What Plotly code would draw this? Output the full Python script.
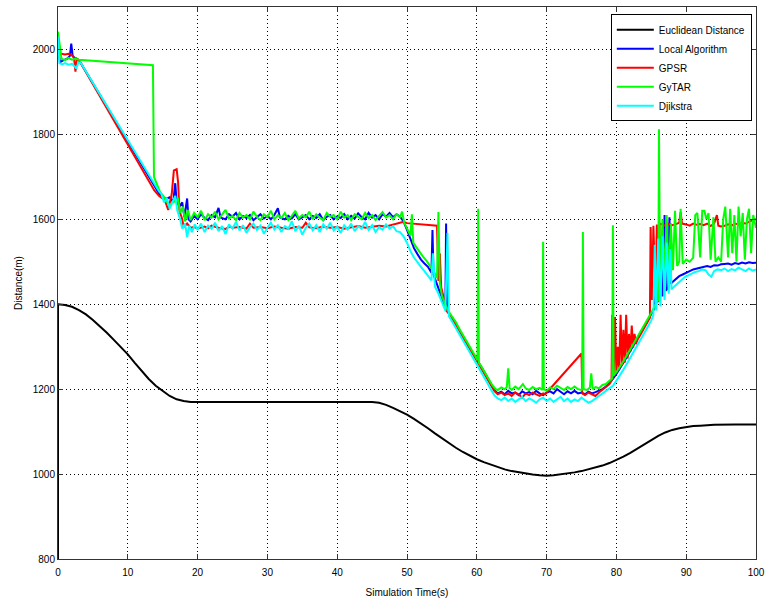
import plotly.graph_objects as go

# ---------------- data ----------------
euclid_t = [0, 0, 1, 2, 3, 4, 5, 6, 7, 8, 9, 10, 11, 12, 13, 14, 15, 16, 17, 18, 19, 20, 30, 40, 45,
            46, 47, 48, 49, 50, 51, 52, 53, 54, 55, 56, 57, 58, 59, 60, 61, 62, 63, 64, 65, 66, 67, 68,
            69, 70, 71, 72, 73, 74, 75, 76, 77, 78, 79, 80, 81, 82, 83, 84, 85, 86, 87, 88, 89, 90, 91,
            92, 94, 97, 100]
euclid_v = [0, 1400, 1398, 1394, 1386, 1376, 1363, 1349, 1333, 1316, 1299, 1282, 1262, 1242, 1224,
            1208, 1195, 1184, 1176, 1172, 1170, 1170, 1170, 1170, 1170,
            1168, 1163, 1156, 1148, 1140, 1130, 1120, 1108, 1096, 1084, 1072, 1062, 1052, 1043, 1035,
            1028, 1022, 1016, 1011, 1007, 1004, 1001, 999, 997, 996, 997, 999, 1001, 1004, 1007, 1011,
            1015, 1020, 1026, 1033, 1041, 1050, 1060, 1070, 1081, 1090, 1098, 1104, 1108, 1111, 1113,
            1114, 1116, 1117, 1117]

local_t = [0, 0.3, 0.8, 1.3, 1.7, 1.9, 2.1, 2.5, 3.0,
           14.5, 15.0, 15.5, 16.0, 16.5, 16.8, 17.0, 17.4, 17.8, 18.1, 18.5, 18.7, 19.0,
           19.5, 20, 20.5, 21, 21.5, 22, 22.5, 23, 23.3, 24, 24.5, 25, 25.5, 26, 26.5, 27, 27.5, 28,
           28.5, 29, 29.5, 30, 30.5, 31, 31.5, 31.8, 32.5, 33, 33.5, 34, 34.5, 35, 35.5, 36, 36.5, 37,
           37.5, 38, 38.5, 39, 39.5, 40, 40.5, 41, 41.5, 42, 42.5, 43, 43.5, 44, 44.5, 45, 45.5, 46,
           46.5, 47, 47.5, 48, 48.5, 49, 49.5,
           50, 50.5, 51, 51.5, 52, 52.5, 53, 53.5, 53.65, 53.8, 54, 54.5, 55, 55.5, 55.6, 55.75, 56,
           56.5, 57, 57.5, 58, 58.5, 59, 59.5, 60, 60.5, 61, 61.5, 62, 62.5, 63,
           63.5, 64, 64.5, 65, 65.5, 66, 66.5, 67, 67.5, 68, 68.5, 69, 69.5, 70, 70.5, 71, 71.5, 72,
           72.5, 73, 73.5, 74, 74.5, 75, 75.5, 76, 76.5, 77, 77.5,
           78, 78.5, 79, 79.5, 80, 80.5, 81, 81.5, 82, 82.5, 83, 83.5, 84, 84.5, 85, 85.5, 85.8, 86,
           86.4, 86.6, 86.9, 87.1, 87.4, 87.6, 87.8, 88, 88.5, 89, 89.5, 90, 90.5, 91, 91.5, 92, 92.5,
           93, 93.5, 94, 94.5, 95, 95.5, 96, 96.5, 97, 97.5, 98, 98.5, 99, 99.5, 100]
local_v = [2000, 1970, 1975, 1978, 1985, 2014, 1985, 1978, 1975,
           1660, 1652, 1648, 1652, 1640, 1685, 1640, 1630, 1640, 1605, 1649, 1600, 1595,
           1608, 1600, 1612, 1603, 1598, 1610, 1605, 1627, 1604, 1600, 1612, 1606, 1615, 1600, 1608,
           1603, 1610, 1598, 1605, 1612, 1602, 1608, 1600, 1610, 1626, 1604, 1600, 1608, 1602, 1612,
           1600, 1606, 1610, 1600, 1608, 1603, 1612, 1598, 1606, 1610, 1600, 1607, 1603, 1612, 1600,
           1608, 1602, 1614, 1605, 1600, 1615, 1604, 1610, 1600, 1612, 1606, 1615, 1605, 1612, 1606,
           1595,
           1575, 1552, 1532, 1518, 1505, 1496, 1488, 1474, 1575, 1470, 1460, 1440, 1415, 1392, 1590,
           1388, 1378, 1368, 1355, 1340, 1323, 1310, 1296, 1283, 1268, 1256, 1243, 1228, 1212, 1198,
           1190,
           1194, 1188, 1196, 1190, 1192, 1186, 1195, 1190, 1193, 1188, 1196, 1190, 1186, 1192, 1195,
           1190, 1200, 1194, 1188, 1195, 1190, 1196, 1190, 1192, 1188, 1194, 1190, 1193, 1196,
           1200, 1206, 1214, 1224, 1236, 1248, 1262, 1276, 1290, 1304, 1318, 1333, 1348, 1362, 1377,
           1392, 1480, 1405, 1560, 1418, 1610, 1432, 1440, 1605, 1448, 1452, 1460, 1466, 1470, 1475,
           1478, 1482, 1484, 1487, 1489, 1490, 1488, 1492, 1491, 1494, 1495, 1496, 1493, 1497, 1495,
           1498, 1496, 1499, 1497, 1498]

gpsr_t = [0, 0.5, 1.0, 1.5, 2.0, 2.3, 2.5, 2.7, 3.0,
          13.8, 14.5, 15.3, 15.8, 16.3, 16.6, 17.0, 17.2, 17.4, 17.8, 18.0, 18.5, 19.0,
          19.5, 20, 21, 21.5, 22, 23, 24, 24.5, 25, 26, 27, 27.5, 28, 29, 30, 31, 32, 33, 34, 35,
          35.5, 36, 37, 38, 39, 40, 41, 42, 43, 44, 45, 46, 47, 48, 49, 49.5, 50, 51, 52, 53, 54,
          54.3, 54.5, 54.7, 54.9, 55.2, 55.6,
          56, 56.5, 57, 57.5, 58, 58.5, 59, 59.5, 60, 60.5, 61, 61.5, 62, 62.5, 63, 63.5, 64, 64.5,
          65, 65.5, 66, 66.5, 67, 67.5, 68, 68.5, 69, 69.5, 69.8, 75.0, 75.1, 75.5, 76, 76.5, 77,
          77.5, 78, 78.5, 79,
          79.3, 79.4, 79.6, 79.8, 80.0, 80.2, 80.4, 80.6, 80.8, 81.0, 81.2, 81.4, 81.6, 81.8, 82.0,
          82.2, 82.4, 82.6, 82.8, 83, 83.5, 84, 84.5, 84.8, 84.9, 85.1, 85.3, 85.6, 85.8, 86.0,
          86.2, 86.5, 87, 87.5, 88, 88.5, 89, 89.2, 89.4, 90, 90.5, 91, 91.5, 92, 92.5, 93, 93.5,
          94, 94.4, 94.6, 95, 95.5, 96, 96.5, 97, 97.5, 98, 98.5, 99, 99.5, 100]
gpsr_v = [1985, 1990, 1988, 1990, 1986, 1980, 1948, 1978, 1975,
          1668, 1655, 1645, 1622, 1660, 1715, 1718, 1688, 1620, 1600, 1582, 1590, 1580,
          1582, 1578, 1583, 1579, 1585, 1580, 1577, 1583, 1580, 1582, 1578, 1590, 1580, 1582, 1579,
          1583, 1580, 1578, 1582, 1580, 1592, 1581, 1579, 1583, 1580, 1582, 1578, 1581, 1584, 1580,
          1582, 1585, 1583, 1588, 1592, 1594, 1591, 1590, 1588, 1587, 1586,
          1585, 1455, 1520, 1440, 1420, 1385,
          1378, 1366, 1352, 1338, 1322, 1308, 1294, 1280, 1266, 1254, 1240, 1226, 1210, 1196, 1188,
          1192, 1186, 1190, 1184, 1192, 1188, 1180, 1190, 1186, 1192, 1188, 1184, 1190, 1188, 1284,
          1190, 1186, 1192, 1188, 1184, 1192, 1198, 1204, 1212,
          1220, 1375, 1230, 1370, 1238, 1300, 1245, 1375, 1255, 1340, 1262, 1375, 1272, 1330, 1288,
          1350, 1298, 1330, 1306, 1316, 1330, 1345, 1360, 1368, 1582, 1410, 1585, 1425, 1588, 1432,
          1590, 1588, 1585, 1590, 1586, 1588, 1592, 1617, 1590, 1588, 1585, 1590, 1587, 1589, 1586,
          1590, 1584, 1590, 1610, 1585, 1583, 1585, 1588, 1585, 1590, 1588, 1592, 1590, 1595, 1598,
          1600]

gytar_t = [0, 0.3, 0.5, 1.0, 1.5, 2.0, 2.5, 3.0, 13.6, 13.75, 14.6, 15.3, 15.9, 16.5, 17.2, 17.5,
           17.9, 18.2, 18.6, 19.0, 19.5,
           20, 20.5, 21, 21.5, 22, 22.5, 23, 23.5, 24, 24.5, 25, 25.5, 26, 26.5, 27, 27.5, 28, 28.5,
           29, 29.5, 30, 30.5, 31, 31.5, 32, 32.5, 33, 33.5, 34, 34.5, 35, 35.5, 36, 36.5, 37, 37.5,
           38, 38.5, 39, 39.5, 40, 40.5, 41, 41.5, 42, 42.5, 43, 43.5, 44, 44.5, 45, 45.5, 46, 46.5,
           47, 47.5, 48, 48.5, 49, 49.3, 49.6,
           50, 50.5, 50.7, 50.9, 51.3, 51.8, 52.3, 52.8, 53.3, 53.8, 54.3, 54.5, 54.7, 55, 55.5, 56,
           56.5, 57, 57.5, 58, 58.5, 59, 59.5, 60, 60.1, 60.2, 60.3, 60.7, 61.2, 61.7, 62.2, 62.7,
           63, 63.5, 64, 64.3, 64.5, 64.7, 65, 65.5, 66, 66.6, 67, 67.5, 68, 68.5, 69, 69.4, 69.5,
           69.6, 70, 70.5, 71, 71.5, 72, 72.5, 73, 73.5, 74, 74.5, 75, 75.1, 75.2, 75.3, 75.8, 76.2,
           76.4, 76.6, 77, 77.5, 78, 78.5, 79, 79.4, 79.5, 79.6, 80, 80.5, 81, 81.5, 82, 82.5, 83,
           83.5, 84, 84.5, 85, 85.5, 86.0, 86.1, 86.25, 86.6, 86.9, 87.2, 87.5, 87.8, 88.1, 88.4,
           88.7, 89.0, 89.2, 89.5, 90, 90.5, 91, 91.3, 91.6, 92, 92.3, 92.6, 92.9, 93.2, 93.5, 93.9,
           94.2, 94.6, 95, 95.3, 95.6, 96, 96.3, 96.6, 96.9, 97.2, 97.5, 97.8, 98.1, 98.4, 98.7, 99,
           99.3, 99.6, 100]
gytar_v = [2042, 2000, 1978, 1975, 1980, 1976, 1978, 1976, 1963, 1700, 1665, 1650, 1633, 1640, 1648,
           1615, 1630, 1595, 1622, 1598, 1615,
           1605, 1620, 1598, 1612, 1604, 1618, 1600, 1610, 1622, 1602, 1608, 1598, 1615, 1604, 1610,
           1600, 1618, 1606, 1598, 1612, 1605, 1620, 1600, 1610, 1603, 1615, 1598, 1608, 1620, 1602,
           1610, 1605, 1618, 1600, 1612, 1604, 1598, 1615, 1606, 1610, 1600, 1618, 1604, 1610, 1598,
           1612, 1605, 1600, 1615, 1603, 1610, 1598, 1608, 1617, 1604, 1610, 1600, 1612, 1605, 1618,
           1592,
           1580, 1562, 1612, 1545, 1535, 1522, 1512, 1502, 1490, 1478, 1462, 1617, 1450, 1420, 1398,
           1382, 1370, 1358, 1342, 1327, 1314, 1300, 1286, 1272, 1268, 1625, 1262, 1252, 1238, 1225,
           1210, 1200,
           1198, 1204, 1200, 1205, 1249, 1202, 1198, 1206, 1200, 1212, 1202, 1198, 1205, 1200, 1203,
           1198, 1547, 1200, 1196, 1204, 1200, 1208, 1202, 1198, 1205, 1200, 1206, 1200, 1198, 1200,
           1570, 1200, 1198, 1204, 1237, 1200, 1205, 1202, 1210, 1212, 1220, 1225, 1586, 1232, 1240,
           1252, 1266, 1280, 1294, 1308, 1322, 1336, 1352, 1366, 1380, 1396, 1410, 1812, 1450, 1600,
           1460, 1610, 1470, 1590, 1480, 1620, 1490, 1500, 1625, 1495, 1505, 1500, 1510, 1610, 1615,
           1510, 1620, 1620, 1600, 1615, 1505, 1605, 1500, 1510, 1500, 1600, 1630, 1510, 1625, 1520,
           1610, 1500, 1630, 1560, 1615, 1505, 1600, 1625, 1520, 1610, 1580]

dijkstra_t = [0, 0.2, 0.6, 1.0, 1.5, 2.0, 2.4, 2.6, 2.9, 3.2,
              14.5, 14.8, 15.2, 15.6, 16.0, 16.4, 16.8, 17.1, 17.5, 17.8, 18.2, 18.5, 18.8, 19.2,
              19.6,
              20, 20.5, 21, 21.5, 22, 22.5, 23, 23.5, 24, 24.5, 25, 25.5, 26, 26.5, 27, 27.5, 28,
              28.5, 29, 29.5, 30, 30.5, 31, 31.5, 32, 32.5, 33, 33.5, 34, 34.5, 35, 35.5, 36, 36.5,
              37, 37.5, 38, 38.5, 39, 39.5, 40, 40.5, 41, 41.5, 42, 42.5, 43, 43.5, 44, 44.5, 45,
              45.5, 46, 46.5, 47, 47.5, 48, 48.5, 49,
              49.5, 50, 50.5, 51, 51.5, 52, 52.5, 53, 53.5, 53.7, 53.9, 54, 54.5, 55, 55.5, 55.8, 56,
              56.5, 57, 57.5, 58, 58.5, 59, 59.5, 60, 60.5, 61, 61.5, 62, 62.5, 63,
              63.5, 64, 64.5, 65, 65.5, 66, 66.5, 67, 67.5, 68, 68.5, 69, 69.5, 70, 70.5, 71, 71.5,
              72, 72.5, 73, 73.5, 74, 74.5, 75, 75.5, 76, 76.5, 77, 77.5, 78,
              78.5, 79, 79.5, 80, 80.5, 81, 81.5, 82, 82.5, 83, 83.5, 84, 84.5, 85, 85.3, 85.5, 85.7,
              86.0, 86.3, 86.6, 86.9, 87.2, 87.5, 87.7, 87.9, 88.3, 88.8, 89.3, 89.8, 90.3, 90.8,
              91.3, 91.8, 92.3, 92.8, 93.2, 93.6, 94, 94.5, 95, 95.5, 96, 96.5, 97, 97.5, 98, 98.5,
              99, 99.5, 100]
dijkstra_v = [2030, 1968, 1965, 1968, 1964, 1966, 1960, 1955, 1968, 1970,
              1665, 1660, 1640, 1650, 1625, 1640, 1655, 1620, 1600, 1578, 1590, 1558, 1585, 1570,
              1588,
              1575, 1590, 1570, 1585, 1578, 1592, 1572, 1584, 1565, 1588, 1578, 1594, 1574, 1586,
              1568, 1582, 1590, 1575, 1585, 1566, 1580, 1592, 1576, 1586, 1570, 1584, 1578, 1595,
              1572, 1585, 1564, 1580, 1590, 1574, 1586, 1570, 1588, 1578, 1592, 1574, 1583, 1568,
              1586, 1576, 1590, 1572, 1584, 1578, 1594, 1575, 1586, 1570, 1582, 1576, 1588, 1578,
              1584, 1572, 1570,
              1560, 1545, 1525, 1510, 1498, 1488, 1478, 1468, 1456, 1520, 1450, 1442, 1425, 1405,
              1385, 1568, 1372, 1358, 1344, 1330, 1314, 1300, 1286, 1272, 1258, 1245, 1230, 1215,
              1200, 1186, 1178,
              1174, 1180, 1172, 1178, 1170, 1176, 1182, 1172, 1178, 1174, 1168, 1176, 1180, 1172,
              1178, 1170, 1176, 1182, 1172, 1178, 1170, 1176, 1172, 1180, 1174, 1168, 1172, 1178,
              1182, 1188,
              1194, 1200, 1208, 1220, 1232, 1246, 1260, 1274, 1288, 1302, 1317, 1332, 1347, 1362,
              1375, 1540, 1385, 1555, 1395, 1560, 1410, 1545, 1425, 1530, 1435, 1442, 1450, 1458,
              1464, 1468, 1472, 1476, 1478, 1482, 1480, 1470, 1465, 1478, 1482, 1480, 1484, 1478,
              1483, 1480, 1486, 1481, 1478, 1484, 1479, 1482]

series = [
    ("Euclidean Distance", euclid_t, euclid_v, "#000000"),
    ("Local Algorithm", local_t, local_v, "#0000ff"),
    ("GPSR", gpsr_t, gpsr_v, "#ff0000"),
    ("GyTAR", gytar_t, gytar_v, "#00ff00"),
    ("Djikstra", dijkstra_t, dijkstra_v, "#00ffff"),
]

x_ticks = [0, 10, 20, 30, 40, 50, 60, 70, 80, 90, 100]
y_ticks = [800, 1000, 1200, 1400, 1600, 1800, 2000]

# ---------------- figure ----------------
fig = go.Figure()
for name, t, v, c in series:
    fig.add_trace(go.Scatter(x=t, y=v, mode="lines", name=name,
                             line=dict(color=c, width=2)))

FONT = "Liberation Sans, Arial, Helvetica, sans-serif"
axis_common = dict(
    showline=True, linecolor="#333333", linewidth=1, mirror="ticks",
    ticks="inside", ticklen=5, tickcolor="#333333", tickwidth=1,
    showgrid=True, gridcolor="#000000", gridwidth=1, griddash="1px,3px",
    zeroline=False, tickfont=dict(family=FONT, size=10, color="#000000"),
)

fig.update_xaxes(range=[0, 100], tickvals=x_ticks, ticklabelstandoff=4, **axis_common,
                 title=dict(text="Simulation Time(s)", font=dict(family=FONT, size=10, color="#000"),
                            standoff=13))
fig.update_yaxes(range=[800, 2100], tickvals=y_ticks, **axis_common,
                 title=dict(text="Distance(m)", font=dict(family=FONT, size=10, color="#000"),
                            standoff=8))

fig.update_layout(
    width=765, height=598,
    margin=dict(l=58, r=9, t=7, b=39, autoexpand=False),
    paper_bgcolor="white", plot_bgcolor="white",
    font=dict(family=FONT, size=10, color="#000"),
    showlegend=True,
    legend=dict(x=0.994, y=0.987, xanchor="right", yanchor="top",
                bgcolor="white", bordercolor="#000000", borderwidth=1,
                font=dict(family=FONT, size=10, color="#000"),
                itemwidth=37, tracegroupgap=0),
)

fig.write_html("out.html")
